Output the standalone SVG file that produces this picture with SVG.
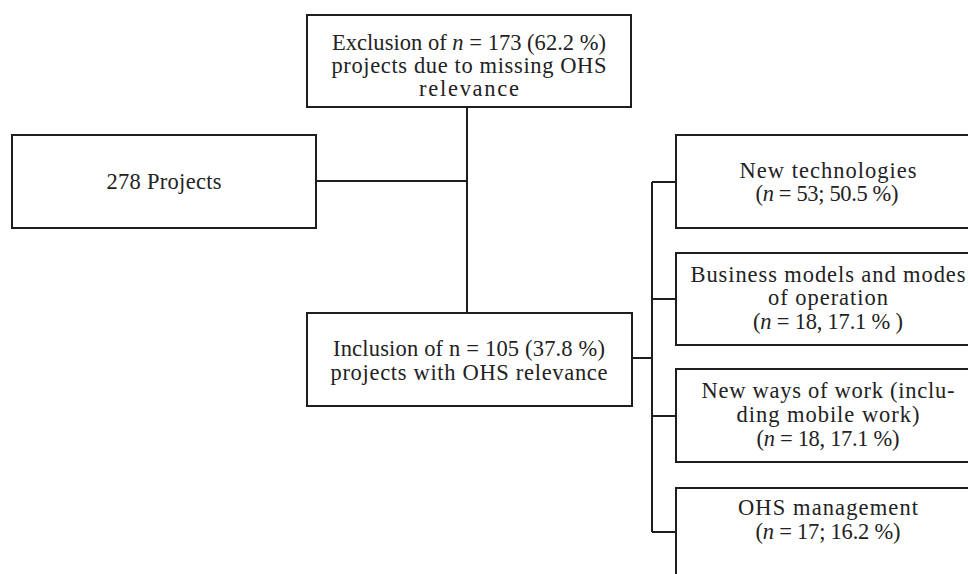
<svg xmlns="http://www.w3.org/2000/svg" width="968" height="574" viewBox="0 0 968 574">
<style>
.box{fill:#fff;stroke:#1e1e1e;stroke-width:2}
.ln{fill:none;stroke:#1e1e1e;stroke-width:2}
text{font-family:"Liberation Serif","Times New Roman",serif;font-size:22.5px;fill:#222;text-anchor:middle}
.i{font-style:italic}
</style>
<rect width="968" height="574" fill="#fff"/>
<g id="connectors">
<path class="ln" d="M467 107V313"/>
<path class="ln" d="M316 181H467"/>
<path class="ln" d="M632 358H652"/>
<path class="ln" d="M652 182V532"/>
<path class="ln" d="M652 182H676M652 299H676M652 416H676M652 532H676"/>
</g>
<g id="exclusion">
<rect class="box" x="307" y="15" width="324" height="92"/>
<text x="469" y="50" textLength="274" lengthAdjust="spacing">Exclusion of <tspan class="i">n</tspan> = 173 (62.2 %)</text>
<text x="469" y="73" textLength="275" lengthAdjust="spacing">projects due to missing OHS</text>
<text x="469" y="96" textLength="100" lengthAdjust="spacing">relevance</text>
</g>
<g id="projects">
<rect class="box" x="12" y="135" width="304" height="93"/>
<text x="164" y="189" textLength="115" lengthAdjust="spacing">278 Projects</text>
</g>
<g id="inclusion">
<rect class="box" x="307" y="313" width="325" height="93"/>
<text x="469" y="356" textLength="272" lengthAdjust="spacing">Inclusion of n = 105 (37.8 %)</text>
<text x="469" y="380" textLength="277" lengthAdjust="spacing">projects with OHS relevance</text>
</g>
<g id="newtech">
<rect class="box" x="676" y="135" width="310" height="93"/>
<text x="828" y="178" textLength="177" lengthAdjust="spacing">New technologies</text>
<text x="827" y="201" textLength="143" lengthAdjust="spacing">(<tspan class="i">n</tspan> = 53; 50.5 %)</text>
</g>
<g id="business">
<rect class="box" x="676" y="253" width="310" height="92"/>
<text x="828" y="282" textLength="275" lengthAdjust="spacing">Business models and modes</text>
<text x="828" y="305" textLength="120" lengthAdjust="spacing">of operation</text>
<text x="828" y="329" textLength="150" lengthAdjust="spacing">(<tspan class="i">n</tspan> = 18, 17.1 % )</text>
</g>
<g id="newways">
<rect class="box" x="676" y="369" width="310" height="93"/>
<text x="828" y="398" textLength="253" lengthAdjust="spacing">New ways of work (inclu-</text>
<text x="828" y="422" textLength="183" lengthAdjust="spacing">ding mobile work)</text>
<text x="828" y="446" textLength="143" lengthAdjust="spacing">(<tspan class="i">n</tspan> = 18, 17.1 %)</text>
</g>
<g id="ohsmgmt">
<rect class="box" x="676" y="488" width="310" height="100"/>
<text x="828" y="515" textLength="180" lengthAdjust="spacing">OHS management</text>
<text x="828" y="539" textLength="145" lengthAdjust="spacing">(<tspan class="i">n</tspan> = 17; 16.2 %)</text>
</g>
</svg>
